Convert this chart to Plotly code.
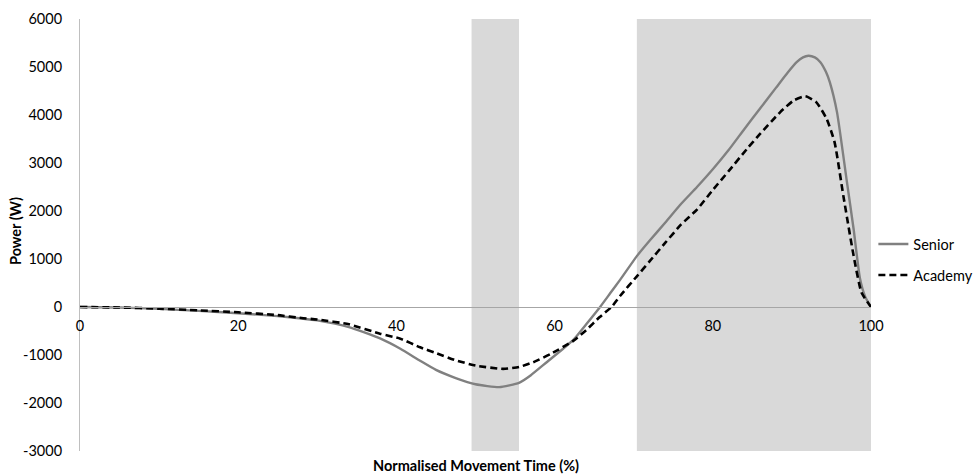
import plotly.graph_objects as go

# Senior (solid grey)
senior_x = [0, 5, 10, 15, 20, 25, 28, 30, 34, 38, 40.5, 43, 45, 47.5, 50, 53, 55.5, 57, 59, 61, 62.4, 64,
            65.7, 67, 68.3, 70.4, 72, 74, 76, 78, 80, 82, 84, 86, 88, 89.5, 90.6, 91.4, 92.1, 92.9, 93.6,
            94.3, 94.8, 95.7, 96.9, 97.8, 98.6, 99.3, 100]
senior_y = [0, -10, -40, -80, -130, -190, -240, -280, -420, -660, -870, -1120, -1310, -1480, -1610, -1670,
            -1580, -1420, -1150, -880, -680, -360, -10, 280, 570, 1060, 1380, 1760, 2150, 2500, 2870, 3270,
            3710, 4140, 4570, 4890, 5100, 5200, 5235, 5200, 5100, 4900, 4680, 4060, 2670, 1625, 600, 200, 0]

# Academy (dashed black)
academy_x = [0, 5, 10, 15, 20, 25, 28, 30, 34, 38, 40.5, 43, 45, 47.5, 50, 53.5, 55.5, 57.3, 59.5, 62.4, 64,
             65.7, 67.2, 68.3, 70.4, 72, 74, 76, 78, 80.1, 82, 84.3, 86, 88.5, 90.2, 91.7, 93.1, 94.4, 95.4,
             96.5, 97.8, 98.8, 100]
academy_y = [0, -10, -35, -70, -110, -170, -230, -260, -360, -560, -660, -840, -960, -1110, -1220, -1290,
             -1250, -1150, -980, -700, -480, -210, 0, 235, 640, 950, 1340, 1720, 2030, 2458, 2830, 3290,
             3610, 4056, 4300, 4390, 4264, 3917, 3430, 2320, 1070, 300, 0]

shade_bands = [(49.5, 55.5), (70.4, 100)]
x_ticks = [0, 20, 40, 60, 80, 100]
y_ticks = [-3000, -2000, -1000, 0, 1000, 2000, 3000, 4000, 5000, 6000]
y_tick_text = ["-3000", "-2000", "-1000", "0", "1000", "2000", "3000", "4000", "5000", "6000"]

FONT = "Lato, Calibri, Carlito, sans-serif"
FS = 14.5

fig = go.Figure()
fig.add_trace(go.Scatter(x=senior_x, y=senior_y, mode="lines", name="Senior", legend="legend",
                         line=dict(color="#808080", width=2.4, shape="spline", smoothing=0.5)))
fig.add_trace(go.Scatter(x=academy_x, y=academy_y, mode="lines", name="Academy", legend="legend2",
                         line=dict(color="#000000", width=2.6, dash="7px,4px", shape="spline", smoothing=0.5)))

for x0, x1 in shade_bands:
    fig.add_shape(type="rect", xref="x", yref="paper", x0=x0, x1=x1, y0=0, y1=1,
                  fillcolor="#d9d9d9", line=dict(width=0), layer="below")

leg_common = dict(x=1.003, xanchor="left", yanchor="middle", bgcolor="rgba(0,0,0,0)",
                  font=dict(size=FS), itemwidth=30)
fig.update_layout(
    width=980, height=476,
    margin=dict(l=80, r=109, t=19, b=25, autoexpand=False),
    paper_bgcolor="white", plot_bgcolor="white",
    font=dict(family=FONT, size=FS, color="#000000"),
    showlegend=True,
    legend=dict(y=(451 - 244) / 432, **leg_common),
    legend2=dict(y=(451 - 275) / 432, **leg_common),
    xaxis=dict(range=[0, 100], tickvals=x_ticks, showgrid=False, zeroline=False, automargin=False,
               showline=True, linecolor="#a6a6a6", linewidth=1, anchor="free", position=1/3,
               ticks="", ticklabelstandoff=6, tickfont=dict(size=FS)),
    yaxis=dict(range=[-3000, 6000], tickvals=y_ticks, ticktext=y_tick_text, showgrid=False,
               automargin=False,
               zeroline=False, showline=True, linecolor="#bfbfbf", linewidth=1, ticks="",
               ticklabelstandoff=14, tickfont=dict(size=FS)),
)

fig.add_annotation(text="<b>Power (W)</b>", xref="paper", yref="paper",
                   x=0, xshift=-64, y=(451 - 231) / 432, showarrow=False, textangle=-90,
                   font=dict(size=FS), xanchor="center", yanchor="middle")
fig.add_annotation(text="<b>Normalised Movement Time (%)</b>", xref="paper", yref="paper",
                   x=0.5, y=0, yshift=-14, showarrow=False, font=dict(size=FS),
                   xanchor="center", yanchor="middle")

fig.write_html("out.html")
